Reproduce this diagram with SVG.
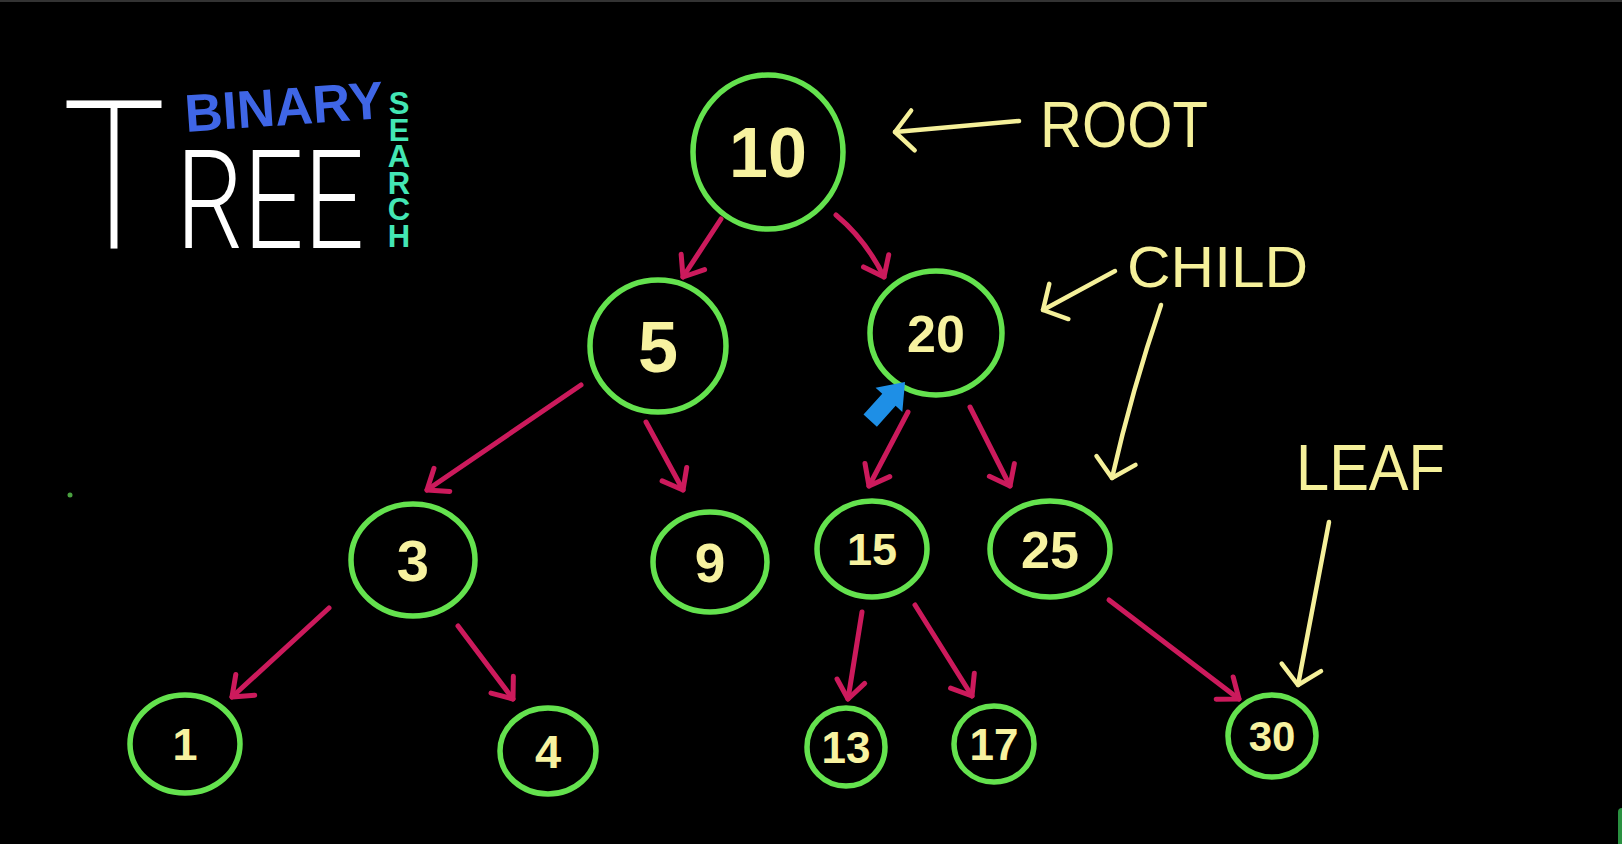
<svg xmlns="http://www.w3.org/2000/svg" width="1622" height="844" viewBox="0 0 1622 844">
<style>
.node ellipse{fill:none;stroke:#64e24e;stroke-width:5.5}
.node text{fill:#f7f2a0;font-family:"Liberation Sans",Arial,sans-serif;font-weight:bold;text-anchor:middle}
.edge{fill:none;stroke:#cc1a5c;stroke-width:5;stroke-linecap:round;stroke-linejoin:round}
.note{fill:none;stroke:#f5f09a;stroke-width:4.5;stroke-linecap:round;stroke-linejoin:round}
.lbl{fill:#f5f09a;font-family:"Liberation Sans",Arial,sans-serif}
.vert{writing-mode:vertical-rl;text-orientation:upright}
</style>
<defs>
<marker id="ph" markerUnits="userSpaceOnUse" viewBox="-30 -30 40 60" refX="0" refY="0" markerWidth="40" markerHeight="60" orient="auto">
<path d="M -18 -14 L 0 0 L -18 14" fill="none" stroke="#cc1a5c" stroke-width="5" stroke-linecap="round" stroke-linejoin="round"/>
</marker>
<marker id="yh" markerUnits="userSpaceOnUse" viewBox="-30 -30 40 60" refX="0" refY="0" markerWidth="40" markerHeight="60" orient="auto">
<path d="M -18 -20 L 0 0 L -18 20" fill="none" stroke="#f5f09a" stroke-width="4.5" stroke-linecap="round" stroke-linejoin="round"/>
</marker>
</defs>
<rect width="1622" height="844" fill="#000"/>
<rect width="1622" height="2" fill="#333"/>
<rect x="1618" y="808" width="10" height="40" rx="4" fill="#2a9040"/>
<circle cx="70" cy="495" r="2.5" fill="#4aa040"/>

<g id="title">
<text font-family="Roboto,Inter,'Liberation Sans',sans-serif" fill="#fff"><tspan x="62" y="248" font-size="207" font-weight="200" textLength="104" lengthAdjust="spacingAndGlyphs">T</tspan><tspan x="176" y="248" font-size="137" font-weight="300" textLength="188" lengthAdjust="spacingAndGlyphs">REE</tspan></text>
<text x="186" y="132" transform="rotate(-4 186 132)" font-family="'Liberation Sans',Arial,sans-serif" font-weight="bold" font-size="53" fill="#3f66e6" textLength="199" lengthAdjust="spacingAndGlyphs">BINARY</text>
<text class="vert" x="399" y="86" font-family="'Liberation Sans',Arial,sans-serif" font-weight="bold" font-size="31" textLength="168" lengthAdjust="spacing" fill="#43e6b4">SEARCH</text>
</g>

<g id="connectors">
<path class="edge" d="M 721 219 L 683 277" marker-end="url(#ph)"/>
<path class="edge" d="M 836 215 Q 866 240 884 277" marker-end="url(#ph)"/>
<path class="edge" d="M 581 385 L 427 490" marker-end="url(#ph)"/>
<path class="edge" d="M 646 422 L 683 490" marker-end="url(#ph)"/>
<path class="edge" d="M 908 412 L 869 486" marker-end="url(#ph)"/>
<path class="edge" d="M 970 407 L 1010 486" marker-end="url(#ph)"/>
<path class="edge" d="M 329 608 L 232 697" marker-end="url(#ph)"/>
<path class="edge" d="M 458 626 L 513 699" marker-end="url(#ph)"/>
<path class="edge" d="M 862 612 L 848 699" marker-end="url(#ph)"/>
<path class="edge" d="M 915 605 L 972 696" marker-end="url(#ph)"/>
<path class="edge" d="M 1109 600 L 1239 699" marker-end="url(#ph)"/>
<path class="note" d="M 1019 121 L 895 132" marker-end="url(#yh)"/>
<path class="note" d="M 1115 271 L 1043 310" marker-end="url(#yh)"/>
<path class="note" d="M 1161 305 Q 1132 390 1112 478" marker-end="url(#yh)"/>
<path class="note" d="M 1329 522 L 1298 685" marker-end="url(#yh)"/>
</g>

<g id="n10" class="node"><ellipse cx="768" cy="152" rx="75" ry="77"/><text x="768" y="177" font-size="70">10</text></g>
<g id="n5" class="node"><ellipse cx="658" cy="346" rx="68" ry="66"/><text x="658" y="372" font-size="72">5</text></g>
<g id="n20" class="node"><ellipse cx="936" cy="333" rx="66" ry="62"/><text x="936" y="352" font-size="52">20</text></g>
<g id="n3" class="node"><ellipse cx="413" cy="560" rx="62" ry="56"/><text x="413" y="581" font-size="58">3</text></g>
<g id="n9" class="node"><ellipse cx="710" cy="562" rx="57" ry="50"/><text x="710" y="582" font-size="55">9</text></g>
<g id="n15" class="node"><ellipse cx="872" cy="549" rx="55" ry="48"/><text x="872" y="565" font-size="45">15</text></g>
<g id="n25" class="node"><ellipse cx="1050" cy="549" rx="60" ry="48"/><text x="1050" y="568" font-size="52">25</text></g>
<g id="n1" class="node"><ellipse cx="185" cy="744" rx="55" ry="49"/><text x="185" y="760" font-size="45">1</text></g>
<g id="n4" class="node"><ellipse cx="548" cy="751" rx="48" ry="43"/><text x="548" y="768" font-size="47">4</text></g>
<g id="n13" class="node"><ellipse cx="846" cy="747" rx="39" ry="39"/><text x="846" y="763" font-size="44">13</text></g>
<g id="n17" class="node"><ellipse cx="994" cy="744" rx="40" ry="38"/><text x="994" y="760" font-size="44">17</text></g>
<g id="n30" class="node"><ellipse cx="1272" cy="736" rx="44" ry="41"/><text x="1272" y="751" font-size="42">30</text></g>

<g id="labels">
<text class="lbl" x="1040" y="147" font-size="65" textLength="168" lengthAdjust="spacingAndGlyphs">ROOT</text>
<text class="lbl" x="1127" y="287" font-size="58" textLength="181" lengthAdjust="spacingAndGlyphs">CHILD</text>
<text class="lbl" x="1296" y="490" font-size="65" textLength="149" lengthAdjust="spacingAndGlyphs">LEAF</text>
</g>

<g id="pointer"><polygon transform="translate(905,382) rotate(-48)" points="0,0 -24,-18 -24,-9 -52,-9 -52,9 -24,9 -24,18" fill="#1e8fe6"/></g>
</svg>
